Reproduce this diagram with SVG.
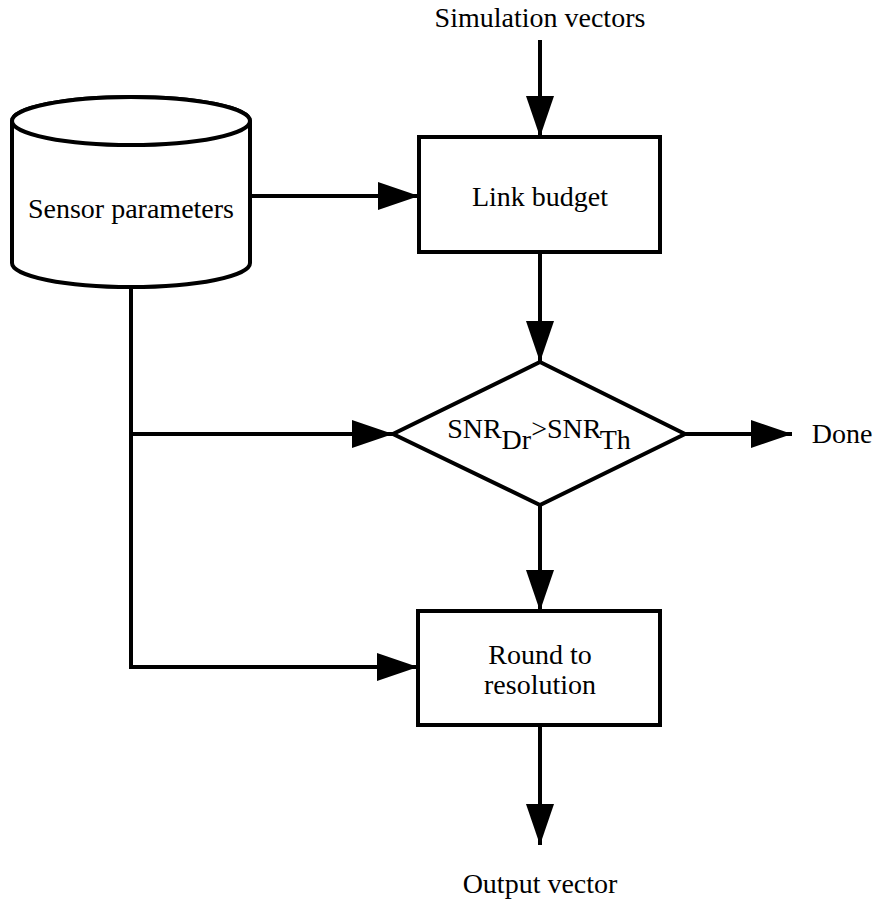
<svg xmlns="http://www.w3.org/2000/svg" width="877" height="903" viewBox="0 0 877 903">
  <style>
    .shape { fill: #ffffff; stroke: #000000; stroke-width: 4; }
    .line { fill: none; stroke: #000000; stroke-width: 4; }
    .label { font-family: "Liberation Serif", "Times New Roman", serif; font-size: 28px; fill: #000000; text-anchor: middle; }
  </style>
  <defs>
    <marker id="arrow" viewBox="0 0 41 28" refX="41" refY="14" markerWidth="41" markerHeight="28" markerUnits="userSpaceOnUse" orient="auto">
      <path d="M0,0 L41,14 L0,28 Z" fill="#000000"/>
    </marker>
  </defs>

  <rect width="877" height="903" fill="#ffffff"/>

  <g id="connectors">
    <line class="line" x1="540" y1="40" x2="540" y2="137" marker-end="url(#arrow)"/>
    <line class="line" x1="250" y1="196" x2="419" y2="196" marker-end="url(#arrow)"/>
    <line class="line" x1="540" y1="252" x2="540" y2="362" marker-end="url(#arrow)"/>
    <polyline class="line" points="131,287 131,667 418,667" marker-end="url(#arrow)"/>
    <line class="line" x1="131" y1="434" x2="393" y2="434" marker-end="url(#arrow)"/>
    <line class="line" x1="685" y1="434" x2="792" y2="434" marker-end="url(#arrow)"/>
    <line class="line" x1="540" y1="505" x2="540" y2="611" marker-end="url(#arrow)"/>
    <line class="line" x1="540" y1="725" x2="540" y2="845" marker-end="url(#arrow)"/>
  </g>

  <g id="simulation-vectors">
    <text class="label" x="540" y="27">Simulation vectors</text>
  </g>

  <g id="sensor-parameters">
    <path class="shape" d="M12,121 L12,263 A119,24 0 0 0 250,263 L250,121 A119,24 0 0 0 12,121 Z"/>
    <ellipse class="shape" cx="131" cy="121" rx="119" ry="24"/>
    <text class="label" x="131" y="218">Sensor parameters</text>
  </g>

  <g id="link-budget">
    <rect class="shape" x="419" y="137" width="241" height="115"/>
    <text class="label" x="540" y="206">Link budget</text>
  </g>

  <g id="snr-check">
    <polygon class="shape" points="540,362 685,434 540,505 393,434"/>
    <text class="label" x="539" y="438">SNR<tspan dy="11">Dr</tspan><tspan dy="-11">&gt;SNR</tspan><tspan dy="11">Th</tspan></text>
  </g>

  <g id="done">
    <text class="label" x="842" y="443">Done</text>
  </g>

  <g id="round-to-resolution">
    <rect class="shape" x="418" y="611" width="242" height="114"/>
    <text class="label" x="540" y="664">Round to</text>
    <text class="label" x="540" y="694">resolution</text>
  </g>

  <g id="output-vector">
    <text class="label" x="540" y="893">Output vector</text>
  </g>
</svg>
